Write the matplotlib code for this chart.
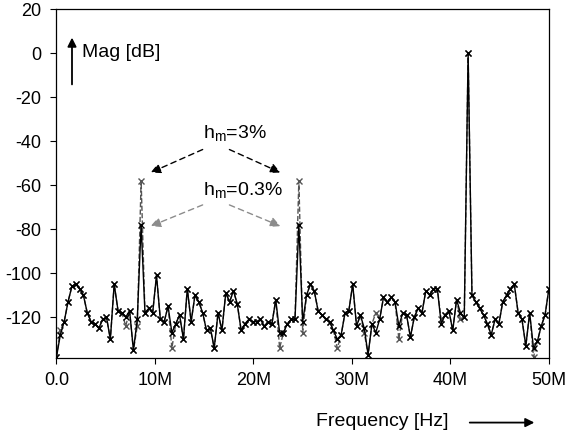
import numpy as np
import matplotlib
matplotlib.use("Agg")
import matplotlib.pyplot as plt

plt.rcParams['font.family'] = ['Liberation Sans', 'DejaVu Sans']
plt.rcParams['mathtext.fontset'] = 'custom'
plt.rcParams['mathtext.rm'] = 'Liberation Sans'
plt.rcParams['mathtext.it'] = 'Liberation Sans'
plt.rcParams['axes.unicode_minus'] = False  # plain hyphen like the original

# FFT bins: fs = 100 MHz, 256 points -> 129 bins from 0 to 50 MHz
freq_step = 100e6 / 256

# spectrum for mismatch h_m = 3 % (dashed)
mag_3 = [-138, -126, -122, -113, -106, -105, -107, -110, -118, -122,
         -123, -125, -121, -120, -130, -105, -117, -118, -124, -117,
         -135, -124, -58, -118, -116, -118, -101, -121, -122, -115,
         -134, -123, -119, -130, -107, -122, -110, -113, -118, -126,
         -125, -134, -118, -126, -109, -113, -108, -114, -126, -123,
         -121, -122, -122, -121, -124, -122, -123, -112, -134, -127,
         -123, -121, -121, -58, -127, -110, -105, -108, -117, -119,
         -121, -122, -126, -134, -128, -118, -117, -105, -124, -119,
         -127, -137, -123, -118, -121, -111, -113, -111, -113, -130,
         -118, -119, -129, -120, -116, -118, -108, -110, -107, -107,
         -121, -119, -117, -126, -112, -121, -120, 0, -110, -113,
         -116, -119, -123, -128, -121, -123, -113, -110, -107, -105,
         -118, -121, -133, -118, -138, -131, -124, -119, -107]

# spectrum for mismatch h_m = 0.3 % (solid)
mag_03 = [-138, -128, -122, -113, -106, -105, -107, -110, -118, -122,
          -123, -125, -121, -120, -130, -105, -117, -118, -120, -117,
          -135, -121, -78, -118, -116, -118, -101, -121, -122, -115,
          -127, -123, -119, -130, -107, -122, -110, -113, -118, -126,
          -125, -134, -118, -126, -109, -113, -108, -114, -126, -123,
          -121, -122, -122, -121, -124, -122, -123, -112, -127, -127,
          -123, -121, -121, -78, -122, -110, -105, -108, -117, -119,
          -121, -122, -126, -130, -128, -118, -117, -105, -124, -119,
          -125, -137, -123, -127, -121, -111, -113, -111, -113, -124,
          -118, -119, -129, -120, -116, -118, -108, -110, -107, -107,
          -123, -119, -117, -126, -112, -118, -120, 0, -110, -113,
          -116, -119, -123, -128, -121, -123, -113, -110, -107, -105,
          -118, -121, -133, -118, -134, -131, -124, -119, -107]

x_ticks = [0, 10e6, 20e6, 30e6, 40e6, 50e6]
x_labels = ['0.0', '10M', '20M', '30M', '40M', '50M']
y_ticks = [20, 0, -20, -40, -60, -80, -100, -120]

freq = np.arange(len(mag_3)) * freq_step

fig = plt.figure(figsize=(5.66, 4.37), dpi=100)
ax = fig.add_axes([0.0998, 0.1808, 0.870, 0.7986])

ax.plot(freq, mag_3, color='#555555', linestyle='--', linewidth=1.0,
        marker='x', markersize=4.5, markeredgewidth=1.0)
ax.plot(freq, mag_03, color='black', linestyle='-', linewidth=1.0,
        marker='x', markersize=4.5, markeredgewidth=1.0)

ax.set_xlim(0, 50e6)
ax.set_ylim(-138.5, 20)
ax.set_xticks(x_ticks)
ax.set_xticklabels(x_labels)
ax.set_yticks(y_ticks)
ax.tick_params(direction='out', length=4.5, width=0.8, labelsize=13)
ax.tick_params(axis='x', pad=5.5)
ax.tick_params(axis='y', pad=6.5)
for s in ax.spines.values():
    s.set_linewidth(0.9)

# y-axis label with arrow inside the plot
ax.annotate('', xy=(0.0315, 0.926), xytext=(0.0315, 0.776), xycoords='axes fraction',
            arrowprops=dict(arrowstyle='-|>', color='black', lw=1.3, mutation_scale=13))
ax.text(0.052, 0.874, 'Mag [dB]', transform=ax.transAxes, fontsize=14,
        va='center', ha='left')

# x-axis label with arrow below the axis
fig.text(0.558, 0.035, 'Frequency [Hz]', fontsize=14, va='center', ha='left')
fig.patches.append(matplotlib.patches.FancyArrowPatch(
    (0.825, 0.033), (0.949, 0.033), transform=fig.transFigure,
    arrowstyle='-|>', mutation_scale=13, color='black', lw=1.3))

# spur annotations
ax.text(14.9e6, -36.4, 'h$_\\mathrm{m}$=3%', fontsize=14, ha='left', va='center')
ax.text(14.9e6, -62.1, 'h$_\\mathrm{m}$=0.3%', fontsize=14, ha='left', va='center')

for tail, head in [((15.1e6, -43.3), (9.3e6, -54.8)), ((17.3e6, -43.3), (23.0e6, -54.8))]:
    ax.annotate('', xy=head, xytext=tail,
                arrowprops=dict(arrowstyle='-|>', color='black', lw=1.0,
                                linestyle=(0, (4, 3)), mutation_scale=15))
for tail, head in [((15.1e6, -68.5), (9.3e6, -79.1)), ((17.3e6, -68.5), (23.0e6, -79.1))]:
    ax.annotate('', xy=head, xytext=tail,
                arrowprops=dict(arrowstyle='-|>', color='#8c8c8c', lw=1.0,
                                linestyle=(0, (4, 3)), mutation_scale=15))

fig.savefig('out.png', dpi=100)
